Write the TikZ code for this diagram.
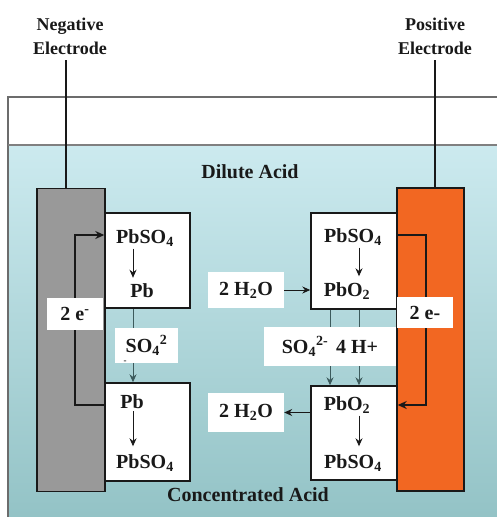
\documentclass[tikz,border=0pt]{standalone}
\usepackage{fontspec}
\setmainfont{Liberation Serif}
\usetikzlibrary{arrows.meta}
\definecolor{liqtop}{RGB}{204,234,239}
\definecolor{liqbot}{RGB}{146,194,197}
\definecolor{elecgray}{RGB}{153,153,153}
\definecolor{elecorange}{RGB}{242,103,34}
\definecolor{ink}{RGB}{25,25,25}
\definecolor{tealline}{RGB}{60,90,92}
\begin{document}
\begin{tikzpicture}[x=1pt,y=-1pt,
  txt/.style={font=\fontsize{20}{22}\selectfont\bfseries, text=ink, inner sep=0pt},
  elab/.style={font=\fontsize{18}{24}\selectfont\bfseries, align=center, text=ink, inner sep=0pt},
  box/.style={draw=ink, line width=1.4pt, fill=white, inner sep=0pt},
  electrode/.style={draw=ink, line width=1.4pt, inner sep=0pt, minimum width=68pt, minimum height=303pt},
  lbl/.style={fill=white, draw=none, inner sep=0pt, font=\fontsize{20}{22}\selectfont\bfseries, text=ink},
  flow/.style={-{Stealth[length=8pt,width=7pt]}, line width=1pt, draw=ink},
  ionflow/.style={-{Stealth[length=8pt,width=7pt]}, line width=1pt, draw=tealline},
  eflow/.style={-{Stealth[length=9pt,width=8pt]}, line width=1.8pt, draw=ink},
  wire/.style={line width=2pt, draw=ink}
]
\useasboundingbox (0,0) rectangle (497,517);
\clip (0,0) rectangle (497,517);
\fill[white] (0,0) rectangle (497,517);
% container and liquid
\shade[top color=liqtop, bottom color=liqbot] (8,145) rectangle (505,525);
\draw[gray!85!black, line width=1.5pt] (8,525) -- (8,97) -- (505,97);
\draw[gray, line width=1.2pt] (8,145) -- (505,145);

% electrodes
\node[electrode, fill=elecgray] (neg) at (71,340) {};
\node[electrode, fill=elecorange, minimum width=67pt] (pos) at (430.5,339.5) {};
\node[elab] (negl) at (70,36) {Negative\\Electrode};
\node[elab] (posl) at (435,36) {Positive\\Electrode};
\draw[wire] ([xshift=-5pt]neg.north) -- ([xshift=-5pt,yshift=-5pt]neg.north |- negl.south);
\draw[wire] ([xshift=4.5pt]pos.north) -- ([xshift=4.5pt,yshift=-5pt]pos.north |- posl.south);

% reaction boxes
\node[box, minimum width=85pt, minimum height=95pt] (lu) at (147.5,260.5) {};
\node[box, minimum width=85pt, minimum height=98pt] (ll) at (147.5,432) {};
\node[box, minimum width=86pt, minimum height=96pt] (ru) at (354,261) {};
\node[box, minimum width=86pt, minimum height=94pt] (rl) at (354,433) {};

% texts inside boxes
\node[txt] (lu1) at (145,238) {PbSO\textsubscript{4}};
\node[txt] (lu2) at (142,291) {Pb};
\node[txt] (ll1) at (132,402) {Pb};
\node[txt] (ll2) at (145,463) {PbSO\textsubscript{4}};
\node[txt] (ru1) at (353,237) {PbSO\textsubscript{4}};
\node[txt] (ru2) at (347,291) {PbO\textsubscript{2}};
\node[txt] (rl1) at (347,405) {PbO\textsubscript{2}};
\node[txt] (rl2) at (353,463) {PbSO\textsubscript{4}};

\draw[flow] (lu1.south -| 133,0) ++(0,2) -- ([yshift=6pt]lu2.north -| 133,0);
\draw[flow] (ll1.south -| 133,0) ++(0,2) -- ([yshift=8pt]ll2.north -| 133,0);
\draw[flow] (ru1.south -| 359,0) ++(0,2) -- ([yshift=6pt]ru2.north -| 359,0);
\draw[flow] (rl1.south -| 359,0) ++(0,2) -- ([yshift=8pt]rl2.north -| 359,0);

% electron loops
\draw[eflow] (ll.west |- 0,405) -- (75,405) -- (75,235) -- (lu.west |- 0,235);
\draw[eflow] (ru.east |- 0,235) -- (426,235) -- (426,405) -- (rl.east |- 0,405);

% ion flows
\draw[ionflow] (lu.south -| 133,0) -- (ll.north -| 133,0);
\draw[ionflow] (ru.south -| 330,0) -- (rl.north -| 330,0);
\draw[ionflow] (ru.south -| 359,0) -- (rl.north -| 359,0);

% water labels
\node[lbl, minimum width=76pt, minimum height=36pt] (h1) at (246,290) {2 H\textsubscript{2}O};
\node[lbl, minimum width=76pt, minimum height=39pt] (h2) at (246,412.5) {2 H\textsubscript{2}O};
\draw[flow] (h1.east) -- (ru.west |- h1.east);
\draw[flow] (rl.west |- h2.east) -- (h2.east);

% ion labels
\node[lbl, minimum width=63pt, minimum height=35pt] (sl) at (146.5,345.5) {SO\textsubscript{4}\textsuperscript{2}};
\node[font=\fontsize{9}{9}\selectfont\bfseries, text=ink, inner sep=0pt] (slm) at (125,362) {-};
\node[lbl, minimum width=132pt, minimum height=39pt] (sr) at (330,346.5) {SO\textsubscript{4}\textsuperscript{2-}\hspace{8pt}4 H+};

% electron labels
\node[lbl, minimum width=56pt, minimum height=32pt] (el) at (75,314) {2 e\textsuperscript{-}};
\node[lbl, minimum width=56pt, minimum height=31pt] (er) at (425,312.5) {2 e-};

% acid labels
\node[txt] (dil) at (250,172) {Dilute Acid};
\node[txt] (con) at (248,495) {Concentrated Acid};
\end{tikzpicture}
\end{document}
